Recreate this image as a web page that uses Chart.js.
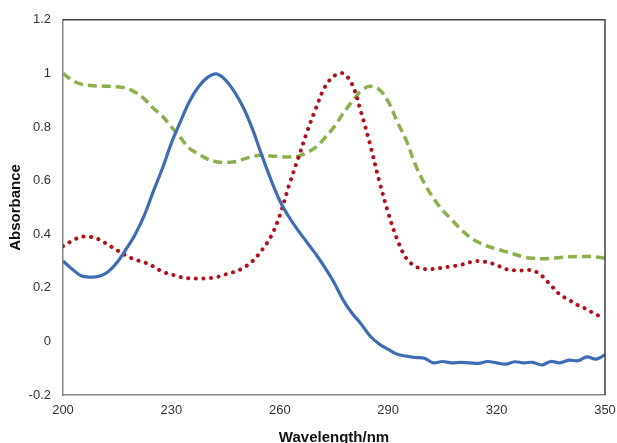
<!DOCTYPE html>
<html>
<head>
<meta charset="utf-8">
<script src="https://cdn.jsdelivr.net/npm/chart.js@4/dist/chart.umd.min.js"></script>
<style>
  html, body { margin: 0; padding: 0; background: #fff; }
  #wrap { width: 617px; height: 443px; position: relative; }
</style>
</head>
<body>
<div id="wrap"><canvas id="myChart" width="617" height="443"></canvas></div>
<script>
const wavelengths = [200, 202.5, 205, 207.5, 210, 212.5, 215, 217.5, 220, 222.5,
  225, 227.5, 230, 232.5, 235, 237.5, 240, 242.5, 245, 247.5,
  250, 252.5, 255, 257.5, 260, 262.5, 265, 267.5, 270, 272.5,
  275, 277.5, 280, 282.5, 285, 287.5, 290, 292.5, 295, 297.5,
  300, 302.5, 305, 307.5, 310, 312.5, 315, 317.5, 320, 322.5,
  325, 327.5, 330, 332.5, 335, 337.5, 340, 342.5, 345, 347.5, 350];

const blueSeries = [0.30, 0.27, 0.245, 0.24, 0.243, 0.26, 0.295, 0.345, 0.40, 0.47,
  0.56, 0.645, 0.74, 0.82, 0.895, 0.95, 0.985, 0.998, 0.975, 0.93,
  0.87, 0.79, 0.695, 0.605, 0.525, 0.465, 0.415, 0.37, 0.325, 0.275,
  0.22, 0.155, 0.105, 0.065, 0.02, -0.01, -0.03, -0.048, -0.055, -0.06,
  -0.063, -0.08, -0.075, -0.08, -0.078, -0.08, -0.082, -0.075, -0.08, -0.085,
  -0.076, -0.08, -0.078, -0.088, -0.075, -0.08, -0.07, -0.072, -0.058, -0.066, -0.05];

const redSeries = [0.355, 0.375, 0.39, 0.39, 0.38, 0.36, 0.34, 0.32, 0.305, 0.295,
  0.28, 0.26, 0.25, 0.24, 0.235, 0.235, 0.235, 0.24, 0.25, 0.26,
  0.275, 0.30, 0.34, 0.39, 0.47, 0.58, 0.68, 0.78, 0.87, 0.95,
  0.99, 1.0, 0.96, 0.855, 0.735, 0.60, 0.48, 0.38, 0.31, 0.28,
  0.27, 0.27, 0.275, 0.28, 0.285, 0.295, 0.30, 0.295, 0.285, 0.27,
  0.265, 0.265, 0.265, 0.245, 0.21, 0.175, 0.155, 0.135, 0.12, 0.10, 0.09];

const greenSeries = [1.0, 0.975, 0.96, 0.955, 0.953, 0.952, 0.95, 0.945, 0.93, 0.905,
  0.87, 0.84, 0.80, 0.76, 0.72, 0.70, 0.68, 0.67, 0.667, 0.67,
  0.68, 0.69, 0.695, 0.692, 0.69, 0.688, 0.69, 0.705, 0.725, 0.76,
  0.80, 0.85, 0.895, 0.935, 0.952, 0.94, 0.895, 0.82, 0.75, 0.66,
  0.59, 0.535, 0.49, 0.455, 0.42, 0.39, 0.37, 0.355, 0.345, 0.335,
  0.325, 0.315, 0.31, 0.308, 0.31, 0.313, 0.316, 0.317, 0.317, 0.315, 0.31];

const xTicks = [200, 230, 260, 290, 320, 350];
const yTicks = [-0.2, 0, 0.2, 0.4, 0.6, 0.8, 1, 1.2];

function toPoints(values) {
  return wavelengths.map((w, i) => ({ x: w, y: values[i] }));
}

// top and right border of the plot area
const frame = {
  id: "frame",
  afterDraw(chart) {
    const a = chart.chartArea;
    const ctx = chart.ctx;
    ctx.save();
    ctx.strokeStyle = "#404040";
    ctx.lineWidth = 1.5;
    ctx.beginPath();
    ctx.moveTo(a.left, a.top);
    ctx.lineTo(a.right, a.top);
    ctx.lineTo(a.right, a.bottom);
    ctx.stroke();
    ctx.restore();
  }
};

const tickFont = { family: "'Liberation Sans', Arial, sans-serif", size: 13 };
const titleFont = { family: "'Liberation Sans', Arial, sans-serif", size: 15, weight: "bold" };

let ctx = document.getElementById("myChart").getContext("2d");
let chart = new Chart(ctx, {
  type: "line",
  data: {
    datasets: [
      {
        label: "blue",
        data: toPoints(blueSeries),
        borderColor: "#3f6db3",
        borderWidth: 3.2,
        pointRadius: 0,
        tension: 0.35
      },
      {
        label: "red",
        data: toPoints(redSeries),
        borderColor: "#b0111d",
        borderWidth: 4,
        borderDash: [0.1, 7.5],
        borderCapStyle: "round",
        pointRadius: 0,
        tension: 0.35
      },
      {
        label: "green",
        data: toPoints(greenSeries),
        borderColor: "#8bb04c",
        borderWidth: 3.5,
        borderDash: [9, 5],
        pointRadius: 0,
        tension: 0.35
      }
    ]
  },
  options: {
    responsive: false,
    animation: false,
    layout: { padding: { top: 19, right: 12, left: 0, bottom: 0 } },
    plugins: { legend: { display: false }, tooltip: { enabled: false } },
    scales: {
      x: {
        type: "linear",
        min: 200,
        max: 350,
        afterBuildTicks: (scale) => { scale.ticks = xTicks.map(v => ({ value: v })); },
        afterFit: (scale) => { scale.height = 48; scale.paddingRight = 0; scale.paddingLeft = 0; },
        grid: { display: false, drawTicks: false },
        border: { color: "#868686", width: 1.5 },
        ticks: { color: "#333", font: tickFont, padding: 8, maxRotation: 0 },
        title: { display: true, text: "Wavelength/nm", color: "#111", font: titleFont, padding: { top: 0, bottom: -4 } }
      },
      y: {
        min: -0.2,
        max: 1.2,
        afterBuildTicks: (scale) => { scale.ticks = yTicks.map(v => ({ value: v })); },
        afterFit: (scale) => { scale.width = 63; },
        grid: { display: false, drawTicks: false },
        border: { color: "#868686", width: 1.5 },
        ticks: {
          color: "#333",
          font: tickFont,
          padding: 12,
          callback: (v) => String(Number(v.toFixed(1)))
        },
        title: { display: true, text: "Absorbance", color: "#111", font: titleFont, padding: { top: 7, bottom: 0 } }
      }
    }
  },
  plugins: [frame]
});
</script>
</body>
</html>
